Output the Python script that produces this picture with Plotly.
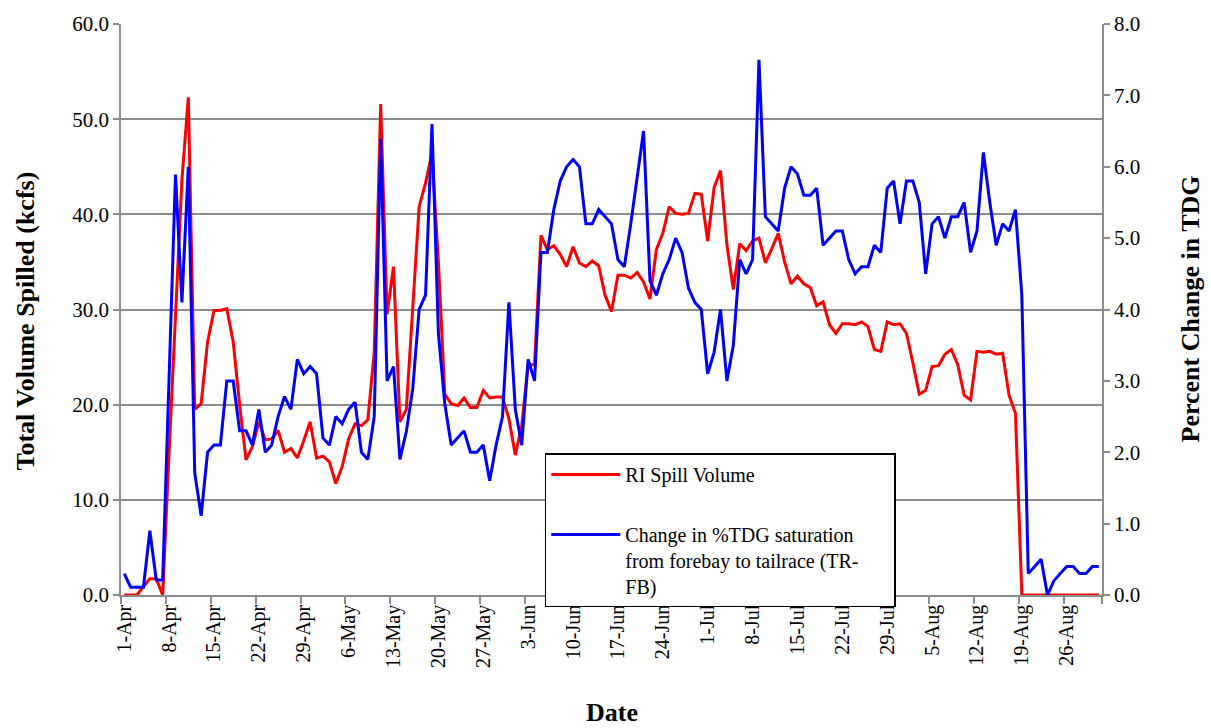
import pandas as pd
import plotly.graph_objects as go

# ---- data ----
start_date = "2011-04-01"
n_days = 153
dates = pd.date_range(start_date, periods=n_days, freq="D")

spill_volume = [
    0, 0, 0, 0.9, 1.7, 1.7, 0, 15.0, 29.9, 43.6,
    52.3, 19.5, 20.1, 26.6, 29.9, 29.9, 30.1, 26.6, 20.0, 14.2,
    15.6, 18.2, 16.3, 16.4, 17.3, 15.0, 15.4, 14.4, 16.2, 18.2,
    14.4, 14.6, 14.0, 11.7, 13.5, 16.4, 18.0, 17.8, 18.4, 25.6,
    51.6, 29.5, 34.5, 18.2, 19.5, 30.0, 40.8, 43.3, 46.4, 35.0,
    21.1, 20.1, 19.9, 20.7, 19.7, 19.7, 21.5, 20.7, 20.8, 20.8,
    18.5, 14.7, 17.8, 24.2, 24.2, 37.8, 36.3, 36.7, 35.8, 34.5,
    36.6, 34.9, 34.5, 35.1, 34.6, 31.5, 29.8, 33.6, 33.6, 33.3,
    33.9, 32.9, 31.1, 36.3, 38.0, 40.8, 40.1, 40.0, 40.1, 42.2,
    42.1, 37.2, 42.8, 44.6, 36.8, 32.1, 36.9, 36.2, 37.2, 37.5,
    34.9, 36.4, 38.0, 35.0, 32.7, 33.5, 32.7, 32.3, 30.4, 30.8,
    28.4, 27.5, 28.5, 28.5, 28.4, 28.7, 28.2, 25.8, 25.6, 28.7,
    28.4, 28.5, 27.5, 24.4, 21.1, 21.5, 24.0, 24.1, 25.3, 25.8,
    24.2, 21.0, 20.5, 25.6, 25.5, 25.6, 25.3, 25.4, 21.0, 19.1,
    0, 0, 0, 0, 0, 0, 0, 0, 0, 0,
    0, 0, 0,
]

tdg_change = [
    0.3, 0.11, 0.11, 0.11, 0.9, 0.21, 0.21, 3.0, 5.89, 4.1,
    6.0, 1.71, 1.11, 2.0, 2.1, 2.1, 3.0, 3.0, 2.3, 2.3,
    2.1, 2.6, 2.0, 2.1, 2.5, 2.78, 2.6, 3.3, 3.1, 3.2,
    3.1, 2.2, 2.1, 2.5, 2.4, 2.6, 2.7, 2.0, 1.9, 2.5,
    6.39, 3.0, 3.2, 1.9, 2.29, 2.89, 4.0, 4.2, 6.6, 3.67,
    2.68, 2.1, 2.2, 2.3, 2.0, 2.0, 2.1, 1.6, 2.1, 2.5,
    4.1, 2.6, 2.1, 3.3, 3.0, 4.8, 4.8, 5.4, 5.8, 6.0,
    6.1, 6.0, 5.2, 5.2, 5.4, 5.3, 5.2, 4.7, 4.6, 5.2,
    5.85, 6.5, 4.4, 4.2, 4.5, 4.7, 5.0, 4.8, 4.3, 4.1,
    4.0, 3.1, 3.4, 4.0, 3.0, 3.5, 4.7, 4.5, 4.7, 7.5,
    5.3, 5.2, 5.1, 5.7, 6.0, 5.9, 5.6, 5.6, 5.7, 4.9,
    5.0, 5.1, 5.1, 4.7, 4.5, 4.6, 4.6, 4.9, 4.8, 5.7,
    5.8, 5.2, 5.8, 5.8, 5.5, 4.5, 5.2, 5.3, 5.0, 5.3,
    5.3, 5.5, 4.8, 5.1, 6.2, 5.5, 4.9, 5.2, 5.1, 5.4,
    4.2, 0.3, 0.4, 0.5, 0.0, 0.2, 0.3, 0.4, 0.4, 0.3,
    0.3, 0.4, 0.4,
]

tick_labels = [
    "1-Apr", "8-Apr", "15-Apr", "22-Apr", "29-Apr", "6-May", "13-May",
    "20-May", "27-May", "3-Jun", "10-Jun", "17-Jun", "24-Jun", "1-Jul",
    "8-Jul", "15-Jul", "22-Jul", "29-Jul", "5-Aug", "12-Aug", "19-Aug",
    "26-Aug",
]

series_names = [
    "RI Spill Volume",
    "Change in %TDG saturation<br>from forebay to tailrace (TR-<br>FB)",
]

# ---- figure ----
FONT = "Liberation Serif, Times New Roman, serif"
GRID = "#8c8c8c"
TICK_SIZE = 21
TITLE_SIZE = 26
half_day = pd.Timedelta(hours=12)
tick_dates = list(dates[::7])
boundaries = [d - half_day for d in tick_dates] + [dates[-1] + half_day]

# pad the legend box out to the reference width
legend_pad = "\u00a0" * 7

fig = go.Figure()
fig.add_trace(go.Scatter(
    x=dates, y=spill_volume, name=series_names[0], mode="lines",
    line=dict(color="#ff0000", width=3), legendgroup="a",
))
fig.add_trace(go.Scatter(
    x=dates, y=tdg_change, name=series_names[1].replace("<br>", legend_pad + "<br>", 1),
    mode="lines", line=dict(color="#0000ff", width=3), yaxis="y2", legendgroup="b",
))

fig.update_layout(
    width=1211, height=728,
    margin=dict(l=121, r=109, t=18, b=133),
    paper_bgcolor="white", plot_bgcolor="white",
    font=dict(family=FONT, size=TICK_SIZE, color="black"),
    showlegend=True,
    legend=dict(
        x=0.432, y=0.248, xanchor="left", yanchor="top",
        bgcolor="white", bordercolor="black", borderwidth=1.5,
        font=dict(family=FONT, size=20, color="black"),
        tracegroupgap=31, valign="top", itemwidth=69,
    ),
    xaxis=dict(
        type="date",
        range=[dates[0] - half_day, dates[-1] + half_day],
        tickmode="array", tickvals=tick_dates, ticktext=tick_labels,
        tickangle=-90, ticks="", showgrid=False,
        showline=True, linecolor=GRID, linewidth=1.5,
        minor=dict(tickmode="array", tickvals=boundaries, ticks="outside",
                   ticklen=7, tickwidth=1.5, tickcolor=GRID, showgrid=False),
        tickfont=dict(size=20),
    ),
    yaxis=dict(
        range=[0, 60], dtick=10, tickformat=".1f",
        showgrid=True, gridcolor=GRID, gridwidth=1.5,
        showline=True, linecolor=GRID, linewidth=1.5,
        ticks="outside", ticklen=6, tickwidth=1.5, tickcolor=GRID,
        zeroline=False, tickfont=dict(size=TICK_SIZE),
    ),
    yaxis2=dict(
        range=[0, 8], dtick=1, tickformat=".1f", overlaying="y", side="right",
        showgrid=False, showline=True, linecolor=GRID, linewidth=1.5,
        ticks="outside", ticklen=6, tickwidth=1.5, tickcolor=GRID,
        zeroline=False, tickfont=dict(size=TICK_SIZE),
    ),
    annotations=[
        dict(text="<b>Total Volume Spilled (kcfs)</b>", xref="paper", yref="paper",
             x=0, y=0.5, xshift=-96, yshift=-12, xanchor="center", yanchor="middle",
             textangle=-90, showarrow=False,
             font=dict(family=FONT, size=TITLE_SIZE)),
        dict(text="<b>Percent Change in TDG</b>", xref="paper", yref="paper",
             x=1, y=0.5, xshift=88, xanchor="center", yanchor="middle",
             textangle=-90, showarrow=False,
             font=dict(family=FONT, size=TITLE_SIZE)),
        dict(text="<b>Date</b>", xref="paper", yref="paper",
             x=0.5, y=0, yshift=-117, xanchor="center", yanchor="middle",
             showarrow=False,
             font=dict(family=FONT, size=TITLE_SIZE)),
    ],
)

fig.write_html("out.html")
